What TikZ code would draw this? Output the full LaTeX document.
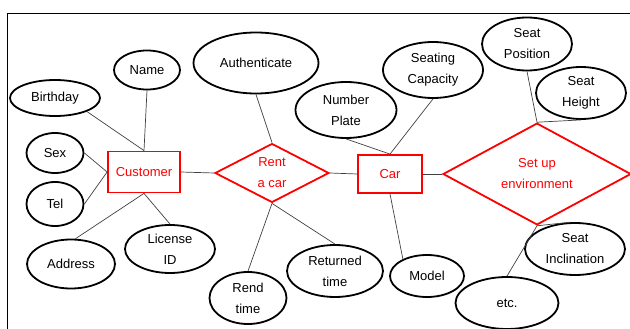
\documentclass[tikz,border=0pt]{standalone}
\usepackage{fontspec}
\setmainfont{Liberation Sans}
\usetikzlibrary{shapes.geometric}

\begin{document}
\begin{tikzpicture}[x=1pt,y=-1pt,
  attr/.style={draw,ellipse,line width=1.8pt,inner sep=0pt,align=center},
  ent/.style={draw=red,text=red,rectangle,line width=1.8pt,inner sep=0pt},
  rel/.style={draw=red,text=red,diamond,line width=1.8pt,inner sep=0pt,align=center},
  link/.style={draw=black!75,line width=0.7pt}]
\fontsize{13}{21}\selectfont
\useasboundingbox (0,0) rectangle (630,329);
\draw[line width=1.8pt] (7.5,329) -- (7.5,13.5) -- (630,13.5);

% entities and relations
\node[ent,minimum width=72pt,minimum height=41pt] (cust) at (144,172) {Customer};
\node[rel,minimum width=114pt,minimum height=54pt] (rent) at (272,173) {Rent\\a car};
\node[ent,minimum width=64pt,minimum height=38pt] (car) at (390,174) {Car};
\node[rel,minimum width=188pt,minimum height=86pt] (setup) at (537,174) {Set up\\environment};

% attributes
\node[attr,minimum width=66pt,minimum height=39pt] (name) at (147,70) {Name};
\node[attr,minimum width=90pt,minimum height=36pt] (birthday) at (55,98) {Birthday};
\node[attr,minimum width=57pt,minimum height=40pt] (sex) at (55,153) {Sex};
\node[attr,minimum width=57pt,minimum height=44pt] (tel) at (55,204) {Tel};
\node[attr,minimum width=88pt,minimum height=49pt] (addr) at (71,264) {Address};
\node[attr,minimum width=90pt,minimum height=48pt] (lic) at (170,249) {License\\ID};
\node[attr,minimum width=125pt,minimum height=61pt] (auth) at (256,63) {Authenticate};
\node[attr,minimum width=77pt,minimum height=52pt] (rend) at (248,298) {Rend\\time};
\node[attr,minimum width=96pt,minimum height=52pt] (ret) at (335,271) {Returned\\time};
\node[attr,minimum width=101pt,minimum height=56pt] (plate) at (346,110) {Number\\Plate};
\node[attr,minimum width=100pt,minimum height=56pt] (seats) at (433,70) {Seating\\Capacity};
\node[attr,minimum width=74pt,minimum height=42pt] (model) at (427,276) {Model};
\node[attr,minimum width=90pt,minimum height=53pt] (seatpos) at (527,44) {Seat\\Position};
\node[attr,minimum width=90pt,minimum height=52pt] (seatht) at (581,93) {Seat\\Height};
\node[attr,minimum width=100pt,minimum height=52pt] (seatinc) at (575,249) {Seat\\Inclination};
\node[attr,minimum width=103pt,minimum height=52pt] (etc) at (507,303) {etc.};

% connectors
\draw[link] (name.south) -- (cust.north);
\draw[link] (birthday.-23) -- (cust.north);
\draw[link] (sex.east) -- (cust.west);
\draw[link] (tel.east) -- (cust.west);
\draw[link] (addr.80) -- (cust.south);
\draw[link] (lic.north) -- (cust.south);
\draw[link] (cust.east) -- (rent.west);
\draw[link] (auth.south) -- (rent.north);
\draw[link] (rent.south) -- (rend.north);
\draw[link] (rent.south) -- (ret.north);
\draw[link] (rent.east) -- (car.west);
\draw[link] (car.north) -- (plate.south);
\draw[link] (car.north) -- (seats.south);
\draw[link] (car.south) -- (model.145);
\draw[link] (car.east) -- (setup.west);
\draw[link] (setup.north) -- (seatpos.south);
\draw[link] (setup.north) -- (seatht.south);
\draw[link] (setup.south) -- (seatinc.100);
\draw[link] (setup.south) -- (etc.north);
\end{tikzpicture}
\end{document}
